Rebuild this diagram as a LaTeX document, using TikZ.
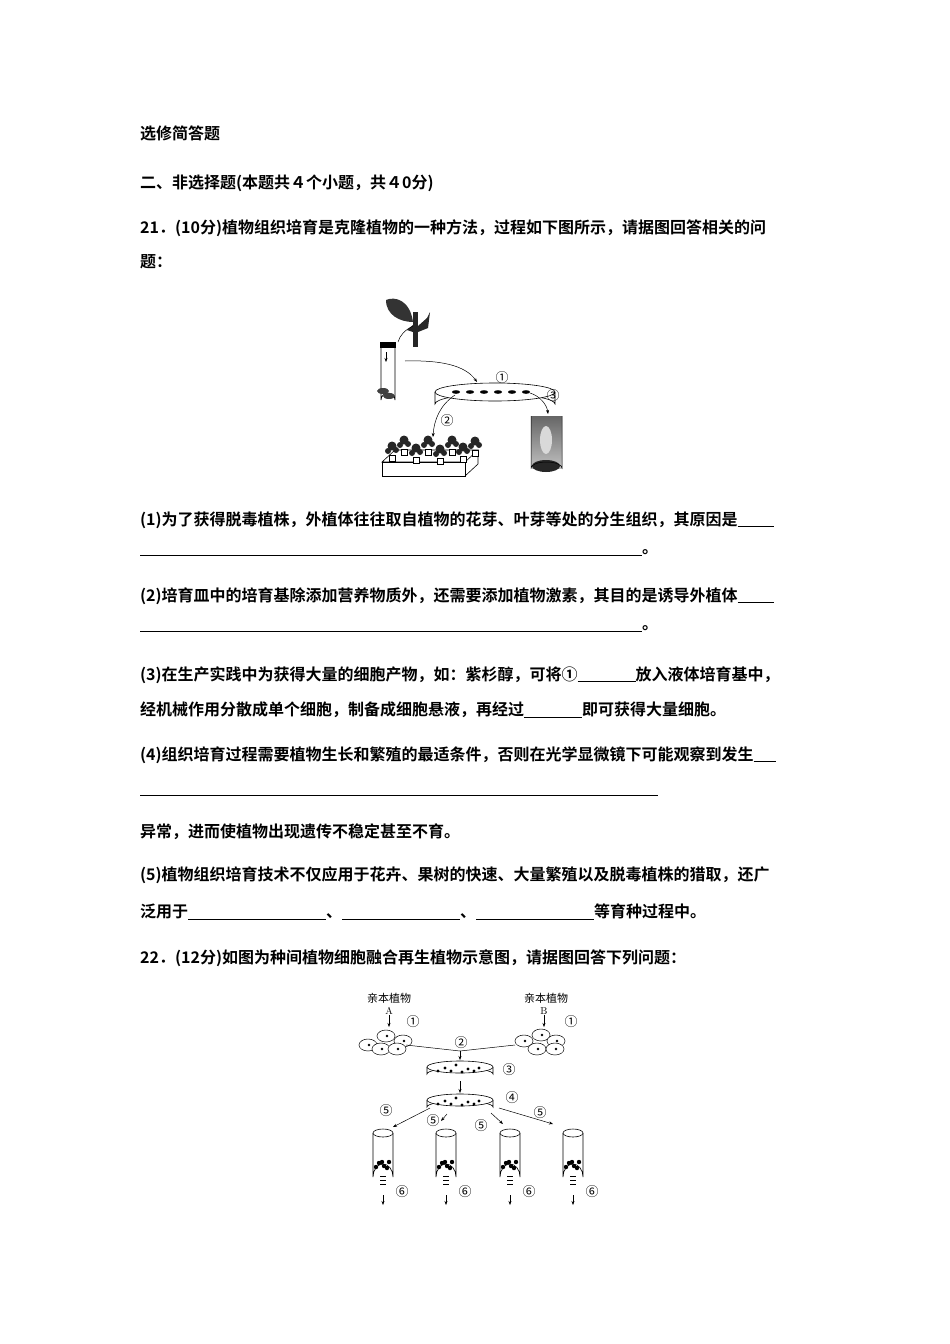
\documentclass[tikz,border=0pt]{standalone}
\usepackage{fontspec}
\usetikzlibrary{arrows.meta}
\newfontfamily\cjkb{Noto Sans CJK SC Bold}
\newfontfamily\cjk{Noto Sans CJK SC}
\begin{document}
\begin{tikzpicture}[x=1pt,y=-1pt,
  txt/.style={anchor=west,inner sep=0pt,font=\cjkb\fontsize{16}{19}\selectfont},
  lab/.style={inner sep=0pt,font=\cjk\fontsize{13}{14}\selectfont},
  lab2/.style={inner sep=0pt,font=\cjk\fontsize{11}{12}\selectfont},
  ln/.style={line width=0.6pt},
  arr/.style={-{Stealth[length=4pt,width=3pt]},line width=0.5pt}]
\useasboundingbox (0,0) rectangle (950,1344);
\fill[white] (0,0) rectangle (950,1344);
\newcommand{\bl}[1]{\underline{\hspace{#1pt}}}
\node[txt] (t0) at (140,133) {选修简答题};
\node[txt] (t1) at (140,183) {二、非选择题(本题共４个小题，共４0分)};
\node[txt] (t2) at (140,228) {21．(10分)植物组织培育是克隆植物的一种方法，过程如下图所示，请据图回答相关的问};
\node[txt] (t3) at (140,262) {题：};
\node[txt] (q1) at (140,520) {(1)为了获得脱毒植株，外植体往往取自植物的花芽、叶芽等处的分生组织，其原因是\bl{36}};
\node[txt] (q1b) at (140,553) {\bl{502}。};
\node[txt] (q2) at (140,596) {(2)培育皿中的培育基除添加营养物质外，还需要添加植物激素，其目的是诱导外植体\bl{36}};
\node[txt] (q2b) at (140,629) {\bl{502}。};
\node[txt] (q3) at (140,675) {(3)在生产实践中为获得大量的细胞产物，如：紫杉醇，可将①\bl{58}放入液体培育基中，};
\node[txt] (q3b) at (140,710) {经机械作用分散成单个细胞，制备成细胞悬液，再经过\bl{58}即可获得大量细胞。};
\node[txt] (q4) at (140,755) {(4)组织培育过程需要植物生长和繁殖的最适条件，否则在光学显微镜下可能观察到发生\bl{22}};
\draw[ln] (140,795) -- (658,795);
\node[txt] (q4c) at (140,832) {异常，进而使植物出现遗传不稳定甚至不育。};
\node[txt] (q5) at (140,875) {(5)植物组织培育技术不仅应用于花卉、果树的快速、大量繁殖以及脱毒植株的猎取，还广};
\node[txt] (q5b) at (140,912) {泛用于\bl{138}、\bl{118}、\bl{118}等育种过程中。};
\node[txt] (t4) at (140,958) {22．(12分)如图为种间植物细胞融合再生植物示意图，请据图回答下列问题：};

% ---------- figure 1 ----------
\fill[black!80] (386,300) .. controls (395,296) and (410,300) .. (413,322) .. controls (400,322) and (386,315) .. (386,300);
\fill[black!85] (413,312) rectangle (418,347);
\fill[black!85] (418,326) -- (427,318) -- (430,312) -- (428,328) -- (418,332) -- cycle;
\fill[black!85] (413,325) -- (407,330) -- (413,332) -- cycle;
\draw[line width=0.5pt] (398,342) .. controls (400,335) and (405,330) .. (413,326);
\draw[line width=0.7pt] (381,345) -- (381,400) arc (180:360:7) -- (395,345);
\fill[black] (380,342) rectangle (396,348);
\draw[arr] (386,352) -- (386,362);
\fill[black!75] (383,391) ellipse (6 and 3);
\fill[black!75] (389,396) ellipse (6 and 3);
\draw[arr] (405,361) .. controls (440,360) and (465,365) .. (477,382);
% dish
\draw[ln,fill=white] (435,392) -- (435,404) arc (180:360:60 and 10) -- (555,392);
\draw[ln,fill=white] (495,392) ellipse (60 and 9);
\foreach \xx in {456,470,484,498,512,526} \fill[black] (\xx,392) ellipse (4 and 1.8);
\node[lab] (c1) at (502,378) {①};
\node[lab] (c2) at (447,421) {②};
\node[lab] (c3) at (553,396) {③};
\draw[arr] (455,395) .. controls (440,405) and (434,420) .. (433,437);
\draw[arr] (530,393) .. controls (540,396) and (547,405) .. (548,414);
% tray
\draw[ln,fill=white] (382,462) -- (395,450) -- (478,450) -- (465,462) -- cycle;
\draw[ln,fill=white] (382,462) rectangle (465,476);
\draw[ln] (465,476) -- (478,464) -- (478,450);
\foreach \xx/\yy in {392/446,404/440,416/448,428/440,440/449,452/440,463/447,475/441}{
  \fill[black!85] (\xx,\yy) circle (4.5);
  \fill[black!85] (\xx-4,\yy+5) circle (3);
  \fill[black!85] (\xx+4,\yy+4) circle (3);
  \draw[line width=0.5pt,fill=white] (\xx-3,\yy+9) rectangle (\xx+3,\yy+15);}
% jar
\shade[top color=black!60,bottom color=black!25] (531,416) rectangle (562,468);
\fill[white!70!gray] (546,440) ellipse (6 and 14);
\fill[black!85] (546,466) ellipse (14 and 6);
\draw[line width=0.5pt] (531,416) -- (531,468) arc (180:360:15.5 and 6) -- (562,416);

% ---------- figure 2 ----------
\node[lab2] (pa) at (389,998) {亲本植物};
\node[lab2] (pb) at (546,998) {亲本植物};
\node[inner sep=0pt,font=\fontsize{10}{10}\selectfont] (A) at (389,1011) {A};
\node[inner sep=0pt,font=\fontsize{10}{10}\selectfont] (B) at (544,1011) {B};
\draw[arr] (A) -- (389,1027);
\draw[arr] (B) -- (544,1027);
\node[lab] (d1a) at (413,1022) {①};
\node[lab] (d1b) at (571,1022) {①};
\foreach \cx/\cy in {368/1045,386/1036,403/1041,381/1049,397/1049}{
  \draw[line width=0.5pt,fill=white] (\cx,\cy) ellipse (9 and 6);
  \fill (\cx+1,\cy) circle (1.3);}
\foreach \cx/\cy in {524/1041,541/1035,556/1041,537/1049,555/1049}{
  \draw[line width=0.5pt,fill=white] (\cx,\cy) ellipse (9 and 6);
  \fill (\cx+1,\cy) circle (1.3);}
\coordinate (m) at (460,1051);
\draw[line width=0.5pt] (406,1045) -- (m) -- (515,1045);
\node[lab] (d2) at (461,1043) {②};
\draw[arr] (m) -- (460,1060);
\newcommand{\dish}[1]{%
  \draw[ln,fill=white] (427,#1) -- (427,#1+7) arc (180:360:33 and 6) -- (493,#1);
  \draw[ln,fill=white] (460,#1) ellipse (33 and 6);
  \foreach \px/\py in {-15/1,-4/-2,8/2,-9/4,2/5,14/4,-22/4,19/1} \fill (460+\px,#1+\py) circle (1.6);}
\dish{1067}
\node[lab] (d3) at (509,1070) {③};
\draw[arr] (460,1081) -- (460,1093);
\dish{1100}
\node[lab] (d4) at (512,1098) {④};
\foreach \lx/\ly in {386/1111,433/1121,481/1126,540/1113} \node[lab] at (\lx,\ly) {⑤};
\draw[arr] (430,1108) -- (393,1127);
\draw[arr] (447,1114) -- (441,1121);
\draw[arr] (491,1113) -- (503,1124);
\draw[arr] (499,1108) -- (553,1124);
\foreach \tx in {383,446,510,573}{
  \draw[line width=0.6pt] (\tx-10,1133) -- (\tx-10,1177) arc (180:360:10 and 13) -- (\tx+10,1133);
  \draw[line width=0.6pt,fill=white] (\tx,1133) ellipse (10 and 4);
  \foreach \px/\py in {-7/1167,-4/1163,1/1166,6/1162,-1/1162,4/1168} \fill (\tx+\px,\py) circle (2.2);
  \foreach \py in {1176,1180,1184} \draw[line width=0.4pt] (\tx-3,\py) -- (\tx+3,\py);
  \draw[arr] (\tx,1195) -- (\tx,1205);
  \node[lab] at (\tx+19,1192) {⑥};}
\end{tikzpicture}
\end{document}
